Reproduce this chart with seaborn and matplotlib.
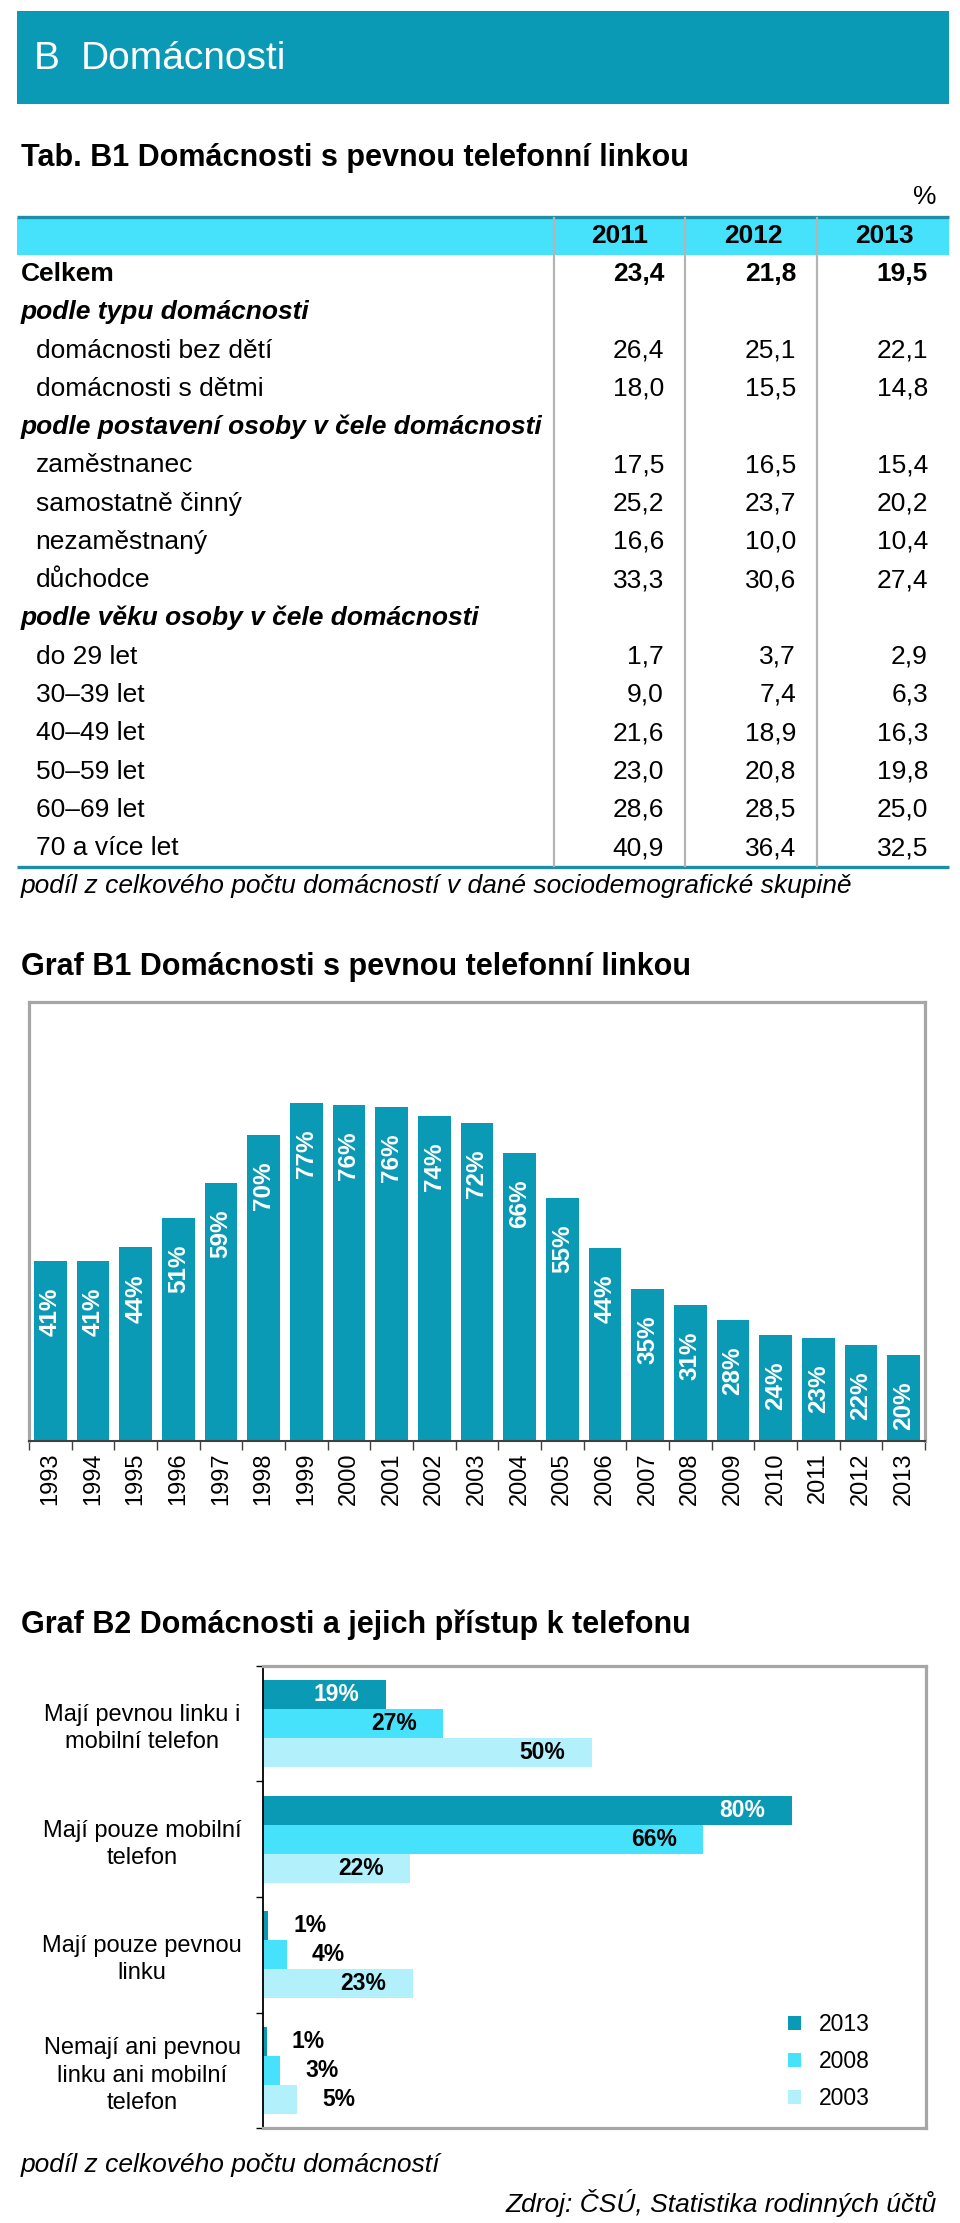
import numpy as np
import pandas as pd
import seaborn as sns
import matplotlib.pyplot as plt
from matplotlib.patches import Rectangle, Patch

plt.rcParams['font.family'] = ['Liberation Sans', 'DejaVu Sans']

TEAL = '#0A9AB5'
CYAN = '#46E1FB'
LIGHT = '#B2F0FC'
LINE = '#1D8EA7'
GRID = '#B4B4B4'
BOX = '#A6A6A6'
DARK = '#404040'

# --- Tab. B1 data ---
col_years = ['2011', '2012', '2013']
row_labels = ['Celkem', 'podle typu domácnosti', 'domácnosti bez dětí', 'domácnosti s dětmi',
              'podle postavení osoby v čele domácnosti', 'zaměstnanec', 'samostatně činný',
              'nezaměstnaný', 'důchodce', 'podle věku osoby v čele domácnosti', 'do 29 let',
              '30–39 let', '40–49 let', '50–59 let', '60–69 let', '70 a více let']
row_kind = ['total', 'group', 'item', 'item', 'group', 'item', 'item', 'item', 'item',
            'group', 'item', 'item', 'item', 'item', 'item', 'item']
v2011 = [23.4, None, 26.4, 18.0, None, 17.5, 25.2, 16.6, 33.3, None, 1.7, 9.0, 21.6, 23.0, 28.6, 40.9]
v2012 = [21.8, None, 25.1, 15.5, None, 16.5, 23.7, 10.0, 30.6, None, 3.7, 7.4, 18.9, 20.8, 28.5, 36.4]
v2013 = [19.5, None, 22.1, 14.8, None, 15.4, 20.2, 10.4, 27.4, None, 2.9, 6.3, 16.3, 19.8, 25.0, 32.5]

# --- Graf B1 data ---
years = ['1993', '1994', '1995', '1996', '1997', '1998', '1999', '2000', '2001', '2002', '2003',
         '2004', '2005', '2006', '2007', '2008', '2009', '2010', '2011', '2012', '2013']
fixed_line = [40.9, 40.9, 44.1, 50.9, 58.7, 69.7, 77.1, 76.5, 76.1, 74.0, 72.4,
              65.6, 55.3, 44.0, 34.6, 30.9, 27.6, 24.1, 23.4, 21.8, 19.6]

# --- Graf B2 data ---
access_cats = ['Mají pevnou linku i\nmobilní telefon', 'Mají pouze mobilní\ntelefon',
               'Mají pouze pevnou\nlinku', 'Nemají ani pevnou\nlinku ani mobilní\ntelefon']
access_years = ['2013', '2008', '2003']
share_2013 = [18.6, 79.8, 0.8, 0.6]
share_2008 = [27.2, 66.4, 3.6, 2.6]
share_2003 = [49.6, 22.2, 22.6, 5.2]

W, H = 960, 2223


def fig_rect(x0, y0, x1, y1):
    return [x0 / W, 1 - y1 / H, (x1 - x0) / W, (y1 - y0) / H]


fig = plt.figure(figsize=(W / 100, H / 100), dpi=100)
bg = fig.add_axes([0, 0, 1, 1], zorder=0)
bg.set_xlim(0, W)
bg.set_ylim(H, 0)
bg.axis('off')

# header band
bg.add_patch(Rectangle((16.5, 11), 932.5, 93, color=TEAL, lw=0))
bg.text(34, 69, 'B', color='white', fontsize=28, va='baseline')
bg.text(81, 69, 'Domácnosti', color='white', fontsize=28, va='baseline')

# table
bg.text(21, 166, 'Tab. B1 Domácnosti s pevnou telefonní linkou', fontsize=22,
        fontweight='bold', va='baseline')
bg.text(936, 204, '%', fontsize=19, ha='right', va='baseline')
bg.add_patch(Rectangle((16.5, 218.4), 932.5, 36.6, color=CYAN, lw=0))
bg.plot([16.5, 949], [216.7, 216.7], color=LINE, lw=2.4, solid_capstyle='butt')
bg.plot([16.5, 949], [867, 867], color=LINE, lw=2.4, solid_capstyle='butt')
for x in [554, 685, 817]:
    bg.plot([x, x], [218, 865.5], color=GRID, lw=1.6)

year_right = [648, 783, 914]
val_right = [664, 796, 928]
for yr, xr in zip(col_years, year_right):
    bg.text(xr, 243, yr, fontsize=19, fontweight='bold', ha='right', va='baseline')

for i, lab in enumerate(row_labels):
    yb = 281 + i * 38.27
    kind = row_kind[i]
    if kind == 'group':
        bg.text(21, yb, lab, fontsize=19, fontweight='bold', fontstyle='italic', va='baseline')
        continue
    weight = 'bold' if kind == 'total' else 'normal'
    bg.text(21 if kind == 'total' else 35.5, yb, lab, fontsize=19, fontweight=weight, va='baseline')
    for vals, xr in zip([v2011, v2012, v2013], val_right):
        bg.text(xr, yb, f'{vals[i]:.1f}'.replace('.', ','), fontsize=19, fontweight=weight,
                ha='right', va='baseline')

bg.text(21, 893, 'podíl z celkového počtu domácností v dané sociodemografické skupině',
        fontsize=19, fontstyle='italic', va='baseline')

# --- Graf B1 ---
bg.text(21, 975, 'Graf B1 Domácnosti s pevnou telefonní linkou', fontsize=22,
        fontweight='bold', va='baseline')
ax1 = fig.add_axes(fig_rect(29, 1002, 925, 1441), zorder=2)
sns.barplot(x=years, y=fixed_line, color=TEAL, width=0.76, saturation=1, ax=ax1, linewidth=0)
ax1.set_xlim(-0.5, len(years) - 0.5)
ax1.set_ylim(0, 100)
ax1.set_yticks([])
ax1.set_xticks(range(len(years)))
ax1.set_xticklabels(years, rotation=90, fontsize=17)
ax1.set_xticks(np.arange(-0.5, len(years)), minor=True)
ax1.tick_params(axis='x', which='major', length=0, pad=8)
ax1.tick_params(axis='x', which='minor', length=6.5, width=1, color=DARK, direction='out', bottom=True)
for s in ['left', 'right', 'top']:
    ax1.spines[s].set_color(BOX)
    ax1.spines[s].set_linewidth(2.3)
ax1.spines['bottom'].set_color(DARK)
ax1.spines['bottom'].set_linewidth(1.5)
ax1.set_xlabel('')
ax1.set_ylabel('')
for i, v in enumerate(fixed_line):
    ax1.annotate(f'{v:.0f}%', xy=(i, v), xytext=(0, -19.2), textcoords='offset points',
                 rotation=90, ha='center', va='top', color='white', fontweight='bold', fontsize=17.5)

# --- Graf B2 ---
bg.text(21, 1633, 'Graf B2 Domácnosti a jejich přístup k telefonu', fontsize=22,
        fontweight='bold', va='baseline')
df = pd.DataFrame({
    'cat': access_cats * 3,
    'year': [access_years[0]] * 4 + [access_years[1]] * 4 + [access_years[2]] * 4,
    'value': share_2013 + share_2008 + share_2003,
})
palette = [TEAL, CYAN, LIGHT]
ax2 = fig.add_axes(fig_rect(263, 1665.7, 926, 2128.3), zorder=2)
sns.barplot(data=df, x='value', y='cat', hue='year', hue_order=access_years, order=access_cats,
            palette=palette, orient='h', width=0.75, saturation=1, legend=False, ax=ax2, linewidth=0)
ax2.set_xlim(0, 100)
ax2.set_ylim(len(access_cats) - 0.5, -0.5)
ax2.set_xticks([])
ax2.set_xlabel('')
ax2.set_ylabel('')
ax2.set_yticks(range(len(access_cats)))
ax2.set_yticklabels(access_cats, fontsize=17, linespacing=1.3)
for lab in ax2.get_yticklabels():
    lab.set_ha('center')
    lab.set_multialignment('center')
ax2.set_yticks(np.arange(-0.5, len(access_cats)), minor=True)
ax2.tick_params(axis='y', which='major', length=0, pad=87)
ax2.tick_params(axis='y', which='minor', length=5, width=1, color='black', direction='out', left=True)
for s in ['right', 'top', 'bottom']:
    ax2.spines[s].set_color(BOX)
    ax2.spines[s].set_linewidth(2.3)
ax2.spines['left'].set_color('black')
ax2.spines['left'].set_linewidth(1.3)

for j, vals in enumerate([share_2013, share_2008, share_2003]):
    for i, v in enumerate(vals):
        yc = i + (j - 1) * 0.25
        if v >= 10:
            ax2.annotate(f'{v:.0f}%', xy=(v, yc), xytext=(-19.2, 0), textcoords='offset points',
                         ha='right', va='center', fontsize=16.5, fontweight='bold',
                         color='white' if j == 0 else 'black')
        else:
            ax2.annotate(f'{v:.0f}%', xy=(v, yc), xytext=(18, 0), textcoords='offset points',
                         ha='left', va='center', fontsize=16.5, fontweight='bold', color='black')

handles = [Patch(facecolor=c, edgecolor='none', label=y) for c, y in zip(palette, access_years)]
fig.legend(handles=handles, loc='center left', bbox_to_anchor=(788 / W, 1 - 2061.7 / H),
           frameon=False, fontsize=16.5, handlelength=0.55, handleheight=0.55,
           handletextpad=0.8, labelspacing=0.6, borderpad=0, borderaxespad=0)

bg.text(21, 2172, 'podíl z celkového počtu domácností', fontsize=19, fontstyle='italic', va='baseline')
bg.text(937, 2212, 'Zdroj: ČSÚ, Statistika rodinných účtů', fontsize=19, fontstyle='italic',
        ha='right', va='baseline')

fig.savefig('out.png', dpi=100)
